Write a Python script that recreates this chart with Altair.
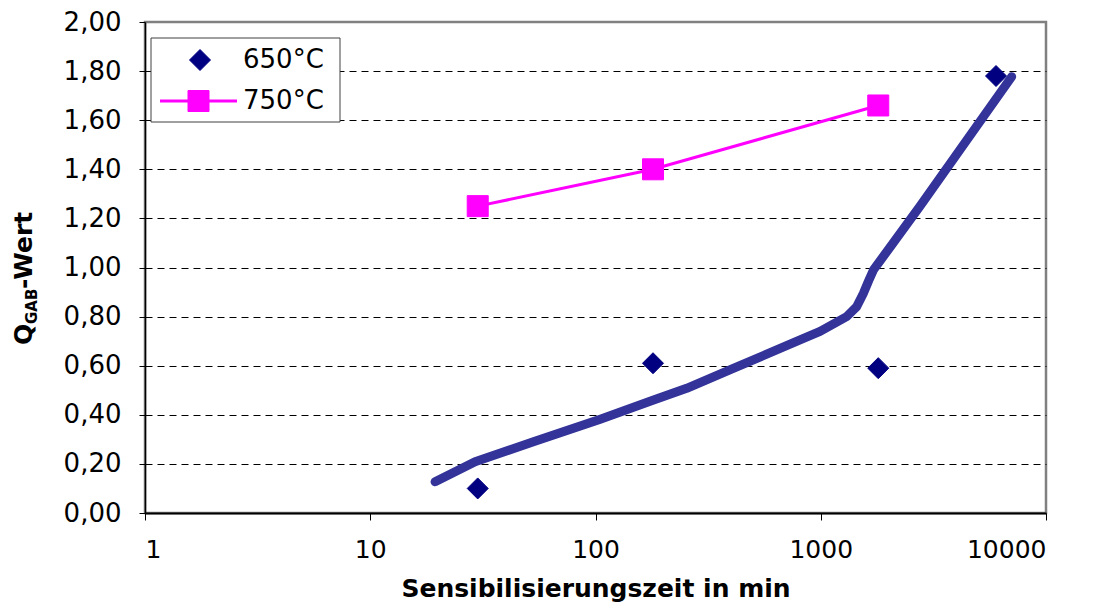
import altair as alt
import pandas as pd

# ---- data ----
series_names = ["650°C", "750°C"]
x_650 = [30, 180, 1800, 6000]
y_650 = [0.10, 0.61, 0.59, 1.78]
x_750 = [30, 180, 1800]
y_750 = [1.25, 1.40, 1.66]
trend_x = [19.4, 29.2, 53, 105, 181, 254, 409, 809, 993, 1303, 1443, 1545, 1630, 1714, 2759, 7041]
trend_y = [0.127, 0.209, 0.29, 0.382, 0.46, 0.508, 0.589, 0.705, 0.74, 0.80, 0.84, 0.894, 0.945, 0.99, 1.25, 1.777]
x_ticks = [1, 10, 100, 1000, 10000]
y_ticks = [0, 0.2, 0.4, 0.6, 0.8, 1.0, 1.2, 1.4, 1.6, 1.8, 2.0]
x_title = "Sensibilisierungszeit in min"
ytitle_parts = ["Q", "GAB", "-Wert"]

NAVY = "#000080"
MAGENTA = "#FF00FF"
TREND = "#333399"
FONT = "DejaVu Sans"

pts650 = pd.DataFrame({"x": x_650, "y": y_650})
pts750 = pd.DataFrame({"x": x_750, "y": y_750})
trend = pd.DataFrame({"x": trend_x, "y": trend_y})

xscale = alt.Scale(type="log", domain=[1, 10000], nice=False)
yscale = alt.Scale(domain=[0, 2], nice=False, zero=True)

xaxis = alt.Axis(values=x_ticks, format="d", grid=False, tickSize=7, tickColor="black",
                 domainColor="black", domainWidth=2, labelFont=FONT, labelFontSize=25,
                 labelColor="black", labelPadding=17, title=x_title, titleFont=FONT,
                 titleFontSize=25, titleFontWeight="bold", titleColor="black", titlePadding=14)
yaxis = alt.Axis(values=y_ticks, labelExpr="replace(format(datum.value, '.2f'), '.', ',')",
                 grid=True, gridDash=[7, 5], gridColor="black", gridWidth=1,
                 gridOpacity=alt.condition("datum.value < 0.01 || datum.value > 1.99", alt.value(0), alt.value(1)),
                 tickSize=6, tickColor="black", domainColor="black", domainWidth=1.5,
                 labelFont=FONT, labelFontSize=26, labelColor="black", labelPadding=18, title=None)

X = alt.X("x:Q", scale=xscale, axis=xaxis)
Y = alt.Y("y:Q", scale=yscale, axis=yaxis)

line_layer = alt.Chart(pts750).mark_line(color=MAGENTA, strokeWidth=3).encode(x=X, y=Y)
sq_layer = alt.Chart(pts750).mark_point(shape="square", filled=True, size=441, color=MAGENTA,
                                        stroke=MAGENTA, strokeWidth=1, opacity=1).encode(x=X, y=Y)
dia_layer = alt.Chart(pts650).mark_point(shape="diamond", filled=True, size=441, color=NAVY,
                                         stroke=NAVY, strokeWidth=1, opacity=1).encode(x=X, y=Y)
trend_layer = alt.Chart(trend).mark_line(color=TREND, strokeWidth=9, strokeCap="round",
                                         strokeJoin="round", interpolate="linear").encode(x=X, y=Y)

# ---- legend (drawn as guide marks) ----
leg = pd.DataFrame({"series": series_names})
leg_box = alt.Chart(leg).transform_filter(alt.datum.series == series_names[0]).mark_rect(
    fill="white", stroke="#404040", strokeWidth=1).encode(
    x=alt.value(6), x2=alt.value(195), y=alt.value(16), y2=alt.value(100))
leg_dia = alt.Chart(leg).transform_filter(alt.datum.series == series_names[0]).mark_point(
    shape="diamond", filled=True, size=441, color=NAVY, stroke=NAVY, strokeWidth=1, opacity=1).encode(
    x=alt.value(55), y=alt.value(38))
leg_line = alt.Chart(leg).transform_filter(alt.datum.series == series_names[1]).mark_rule(
    color=MAGENTA, strokeWidth=3).encode(x=alt.value(15), x2=alt.value(92), y=alt.value(79))
leg_sq = alt.Chart(leg).transform_filter(alt.datum.series == series_names[1]).mark_point(
    shape="square", filled=True, size=441, color=MAGENTA, stroke=MAGENTA, strokeWidth=1, opacity=1).encode(
    x=alt.value(53.5), y=alt.value(79))
leg_t1 = alt.Chart(leg).transform_filter(alt.datum.series == series_names[0]).mark_text(
    font=FONT, fontSize=26, color="black", align="left", baseline="middle").encode(
    x=alt.value(98), y=alt.value(38), text="series:N")
leg_t2 = alt.Chart(leg).transform_filter(alt.datum.series == series_names[1]).mark_text(
    font=FONT, fontSize=26, color="black", align="left", baseline="middle").encode(
    x=alt.value(98), y=alt.value(79), text="series:N")

# ---- y title with subscript ----
yt = pd.DataFrame({"t": ytitle_parts})
title_common = dict(font=FONT, fontWeight="bold", color="black", angle=270, align="left",
                    baseline="alphabetic")
yt_q = alt.Chart(yt).transform_filter(alt.datum.t == ytitle_parts[0]).mark_text(
    fontSize=25, **title_common).encode(x=alt.value(-113), y=alt.value(323), text="t:N")
yt_sub = alt.Chart(yt).transform_filter(alt.datum.t == ytitle_parts[1]).mark_text(
    fontSize=15, **title_common).encode(x=alt.value(-108), y=alt.value(302), text="t:N")
yt_rest = alt.Chart(yt).transform_filter(alt.datum.t == ytitle_parts[2]).mark_text(
    fontSize=25, **title_common).encode(x=alt.value(-113), y=alt.value(267), text="t:N")

chart = alt.layer(line_layer, sq_layer, dia_layer, trend_layer,
                  leg_box, leg_line, leg_dia, leg_sq, leg_t1, leg_t2,
                  yt_q, yt_sub, yt_rest).properties(
    width=901, height=491,
    autosize=alt.AutoSizeParams(type="none"),
    padding={"left": 137, "top": 14, "right": 39, "bottom": 90},
    background="white",
).configure_view(stroke="#808080", strokeWidth=2.5)

chart.save("out.html", embed_options={"renderer": "svg", "actions": False})
